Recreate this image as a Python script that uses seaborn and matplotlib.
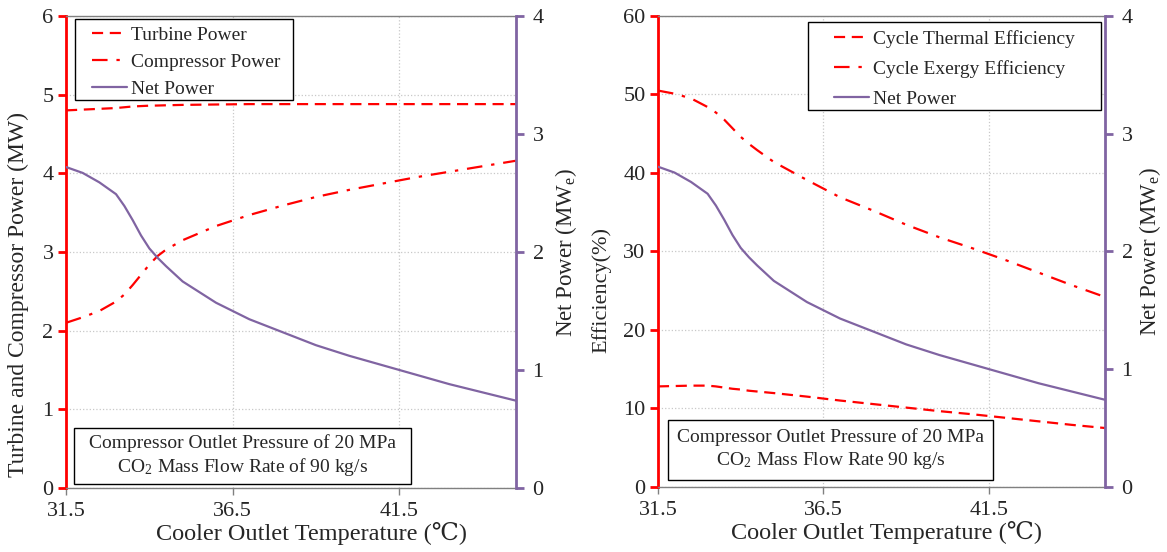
import pandas as pd
import seaborn as sns
from matplotlib import pyplot as plt
from matplotlib.lines import Line2D
from matplotlib.patches import Rectangle

# cooler outlet temperature (degC)
temperature = [31.5, 32.0, 32.5, 33.0, 33.25, 33.5, 33.75, 34.0, 34.25, 34.5, 35.0,
               36.0, 37.0, 38.0, 39.0, 40.0, 41.0, 42.0, 43.0, 44.0, 45.0]

# left chart (MW)
turbine_power = [4.80, 4.81, 4.82, 4.83, 4.84, 4.85, 4.855, 4.86, 4.862, 4.865, 4.87,
                 4.875, 4.88, 4.88, 4.88, 4.88, 4.88, 4.88, 4.88, 4.88, 4.88]
compressor_power = [2.10, 2.17, 2.25, 2.37, 2.46, 2.58, 2.71, 2.84, 2.95, 3.03, 3.15,
                    3.33, 3.47, 3.59, 3.70, 3.79, 3.87, 3.95, 4.02, 4.09, 4.16]
# net power (MWe), shared by both charts
net_power = [2.72, 2.67, 2.59, 2.49, 2.39, 2.27, 2.14, 2.03, 1.95, 1.88, 1.75,
             1.57, 1.43, 1.32, 1.21, 1.12, 1.04, 0.96, 0.88, 0.81, 0.74]

# right chart (%)
thermal_eff = [12.8, 12.85, 12.9, 12.9, 12.8, 12.65, 12.5, 12.4, 12.25, 12.15, 11.95,
               11.5, 11.0, 10.55, 10.1, 9.65, 9.25, 8.8, 8.35, 7.9, 7.5]
exergy_eff = [50.5, 50.1, 49.5, 48.4, 47.7, 46.8, 45.7, 44.6, 43.7, 42.9, 41.4,
              39.1, 36.9, 35.2, 33.4, 31.8, 30.4, 28.9, 27.3, 25.7, 24.2]

x_ticks = [31.5, 36.5, 41.5]

df = pd.DataFrame({"temperature": temperature, "turbine": turbine_power,
                   "compressor": compressor_power, "net": net_power,
                   "thermal": thermal_eff, "exergy": exergy_eff})

RED = "#FF0000"
PURPLE = "#8064A2"
GRAY = "#808080"
DASHED = (0, (5, 3))
DASHDOT = (0, (7, 4, 1.5, 4))
LW = 1.6

sns.set_theme(style="white")
plt.rcParams["font.family"] = ["Liberation Serif", "DejaVu Serif"]
plt.rcParams["mathtext.fontset"] = "stix"

fig = plt.figure(figsize=(11.67, 5.52), dpi=100)
ax_l = fig.add_axes([0.0566, 0.116, 0.3855, 0.855])
ax_r = fig.add_axes([0.5638, 0.118, 0.383, 0.853])


def style_axes(ax, ax2, ylim, yticks, xlabel_x, net_pad):
    ax.set_xlim(31.5, 45)
    ax.set_ylim(*ylim)
    ax.set_xticks(x_ticks)
    ax.set_yticks(yticks)
    ax2.set_ylim(0, 4)
    ax2.set_yticks([0, 1, 2, 3, 4])
    ax.grid(True, color="#c8c8c8", linestyle=":", linewidth=0.9)
    ax.set_axisbelow(True)
    for s in ["top", "bottom"]:
        ax.spines[s].set_color(GRAY)
        ax.spines[s].set_linewidth(1.0)
    ax.spines["left"].set_color(RED)
    ax.spines["left"].set_linewidth(2.0)
    ax.spines["right"].set_visible(False)
    for s in ["top", "bottom", "left"]:
        ax2.spines[s].set_visible(False)
    ax2.spines["right"].set_color(PURPLE)
    ax2.spines["right"].set_linewidth(2.0)
    ax.tick_params(axis="y", left=True, color=RED, width=2, length=6,
                   labelsize=16, pad=3)
    ax.tick_params(axis="x", bottom=True, color=GRAY, width=1, length=5,
                   labelsize=16, pad=5)
    ax2.tick_params(axis="y", right=True, color=PURPLE, width=2, length=6,
                    labelsize=16, pad=6)
    ax.set_xlabel("Cooler Outlet Temperature (\u2103)", fontsize=17.5)
    ax.xaxis.set_label_coords(xlabel_x, -0.072)
    ax2.set_ylabel("Net Power (MW$_\\mathregular{e}$)", fontsize=16.5, labelpad=net_pad)


def framed_legend(ax, handles, labels, anchor, frame, spacing):
    # legend text without its own frame, boxed by a plain rectangle
    x0, y0, x1, y1 = frame
    ax.add_patch(Rectangle((x0, y0), x1 - x0, y1 - y0, transform=ax.transAxes,
                           facecolor="white", edgecolor="black", linewidth=1,
                           zorder=4.5))
    leg = ax.legend(handles, labels, loc="upper left", bbox_to_anchor=anchor,
                    fontsize=14, frameon=False, borderpad=0, borderaxespad=0,
                    handlelength=1.8, handletextpad=0.2, labelspacing=spacing)
    leg.set_zorder(5)
    return leg


def note_box(ax, text, center, frame):
    x0, y0, x1, y1 = frame
    ax.add_patch(Rectangle((x0, y0), x1 - x0, y1 - y0, transform=ax.transAxes,
                           facecolor="white", edgecolor="black", linewidth=1,
                           zorder=4.5))
    ax.text(center[0], center[1], text, transform=ax.transAxes, ha="center",
            va="center", fontsize=14, multialignment="center", linespacing=1.25,
            zorder=5)


def make_handles():
    return [Line2D([], [], color=RED, linestyle=DASHED, linewidth=LW),
            Line2D([], [], color=RED, linestyle=DASHDOT, linewidth=LW),
            Line2D([], [], color=PURPLE, linewidth=LW)]


# ---- left chart: power ----
ax_l2 = ax_l.twinx()
sns.lineplot(data=df, x="temperature", y="turbine", ax=ax_l, color=RED,
             linestyle=DASHED, linewidth=LW)
sns.lineplot(data=df, x="temperature", y="compressor", ax=ax_l, color=RED,
             linestyle=DASHDOT, linewidth=LW)
sns.lineplot(data=df, x="temperature", y="net", ax=ax_l2, color=PURPLE,
             linewidth=LW)
style_axes(ax_l, ax_l2, (0, 6), [0, 1, 2, 3, 4, 5, 6], 0.545, 7)
ax_l.set_ylabel("Turbine and Compressor Power (MW)", fontsize=17)
ax_l.yaxis.set_label_coords(-0.082, 0.41)

framed_legend(ax_l2, make_handles(), ["Turbine Power", "Compressor Power", "Net Power"],
              (0.057, 0.979), (0.020, 0.822, 0.504, 0.994), 0.5)
note_box(ax_l2, "Compressor Outlet Pressure of 20 MPa\nCO$_\\mathregular{2}$ Mass Flow Rate of 90 kg/s",
         (0.392, 0.068), (0.018, 0.0085, 0.767, 0.127))

# ---- right chart: efficiency ----
ax_r2 = ax_r.twinx()
sns.lineplot(data=df, x="temperature", y="thermal", ax=ax_r, color=RED,
             linestyle=DASHED, linewidth=LW)
sns.lineplot(data=df, x="temperature", y="exergy", ax=ax_r, color=RED,
             linestyle=DASHDOT, linewidth=LW)
sns.lineplot(data=df, x="temperature", y="net", ax=ax_r2, color=PURPLE,
             linewidth=LW)
style_axes(ax_r, ax_r2, (0, 60), [0, 10, 20, 30, 40, 50, 60], 0.512, 3)
ax_r.set_ylabel("Efficiency(%)", fontsize=16)
ax_r.yaxis.set_label_coords(-0.104, 0.418)

framed_legend(ax_r2, make_handles(),
              ["Cycle Thermal Efficiency", "Cycle Exergy Efficiency", "Net Power"],
              (0.394, 0.971), (0.336, 0.800, 0.991, 0.987), 0.63)
note_box(ax_r2, "Compressor Outlet Pressure of 20 MPa\nCO$_\\mathregular{2}$ Mass Flow Rate 90 kg/s",
         (0.386, 0.0786), (0.022, 0.015, 0.749, 0.142))

fig.savefig("out.png", dpi=100)
